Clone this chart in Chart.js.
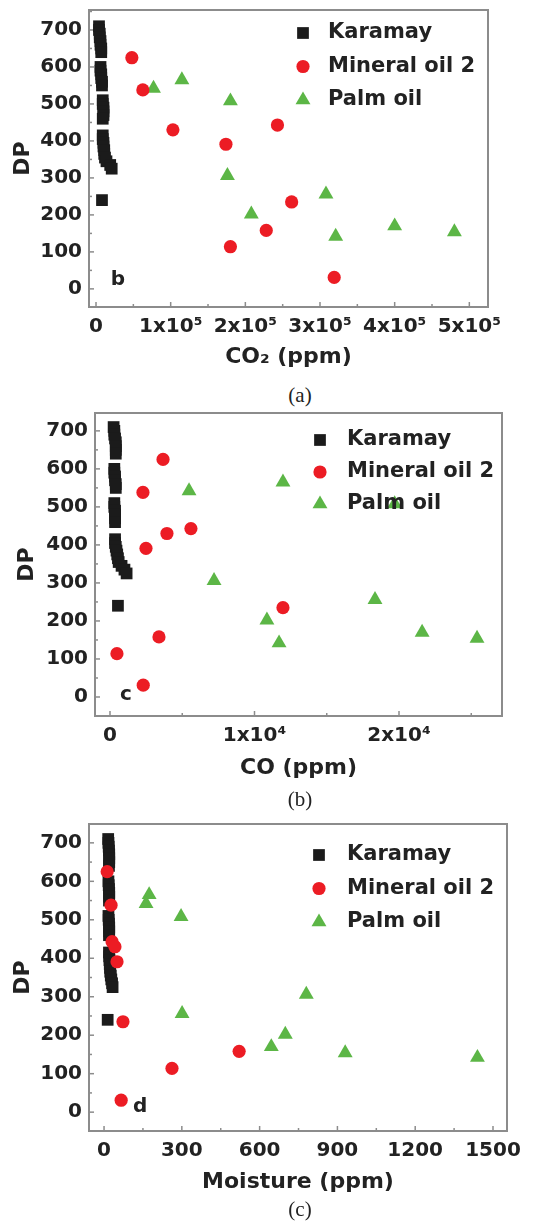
<!DOCTYPE html>
<html><head><meta charset="utf-8">
<script src="https://cdn.jsdelivr.net/npm/chart.js@4.4.1/dist/chart.umd.min.js"></script>
<style>
html,body{margin:0;padding:0;background:#fff;}
body{width:535px;height:1221px;overflow:hidden;position:relative;}
canvas{position:absolute;left:0;}
.cap{position:absolute;left:200px;width:200px;text-align:center;font-family:'Liberation Serif','Times New Roman',serif;font-size:21px;color:#222;line-height:24px;}
</style></head><body>
<canvas id="ca"></canvas>
<div class="cap" style="top:383px">(a)</div>
<canvas id="cb"></canvas>
<div class="cap" style="top:787px">(b)</div>
<canvas id="cc"></canvas>
<div class="cap" style="top:1197px">(c)</div>
<script>
// ---------------- DATA ----------------
const seriesNames = ['Karamay', 'Mineral oil 2', 'Palm oil'];

const karamayDP = [710, 700, 690, 680, 670, 660, 650, 640,
                   600, 590, 580, 570, 560, 550,
                   510, 500, 490, 480, 470, 460,
                   415, 405, 395, 385, 375, 365, 355, 345, 335, 325,
                   240];
const karamayCO2 = [4000, 4000, 5000, 5000, 6000, 6000, 7000, 7000,
                    6000, 6000, 7000, 7000, 8000, 8000,
                    9000, 9000, 10000, 10000, 10000, 9000,
                    9000, 9000, 10000, 10000, 11000, 11000, 12000, 14000, 19000, 21000,
                    8000];
const karamayCO = [250, 300, 300, 350, 400, 400, 400, 400,
                   300, 300, 350, 350, 400, 400,
                   300, 300, 350, 350, 350, 350,
                   350, 350, 400, 450, 500, 550, 600, 800, 1000, 1150,
                   550];
const karamayMoisture = [16, 17, 18, 19, 20, 20, 20, 19,
                         17, 18, 19, 20, 20, 19,
                         17, 18, 19, 20, 20, 19,
                         19, 20, 21, 22, 23, 24, 26, 28, 31, 33,
                         14];

const mineralDP = [625, 538, 443, 430, 391, 235, 158, 114, 31];
const mineralCO2 = [48000, 62700, 243000, 103000, 174000, 262000, 228000, 180000, 319000];
const mineralCO = [3670, 2280, 5600, 3940, 2490, 11970, 3390, 480, 2300];
const mineralMoisture = [12, 27, 31, 42, 50, 73, 521, 262, 66];

const palmDP = [565, 542, 508, 306, 256, 202, 170, 154, 142];
const palmCO2 = [115000, 77000, 180000, 176000, 308000, 208000, 400000, 480000, 321000];
const palmCO = [11970, 5470, 19700, 7200, 18340, 10860, 21600, 25400, 11700];
const palmMoisture = [174, 162, 297, 780, 301, 699, 645, 930, 1440];

const dpTicks = [0, 100, 200, 300, 400, 500, 600, 700];
const dpTickLabels = ['0', '100', '200', '300', '400', '500', '600', '700'];
const co2Ticks = [0, 100000, 200000, 300000, 400000, 500000];
const co2TickLabels = ['0', '1x10\u2075', '2x10\u2075', '3x10\u2075', '4x10\u2075', '5x10\u2075'];
const coTicks = [0, 10000, 20000];
const coTickLabels = ['0', '1x10\u2074', '2x10\u2074'];
const moistureTicks = [0, 300, 600, 900, 1200, 1500];
const moistureTickLabels = ['0', '300', '600', '900', '1200', '1500'];

// ---------------- LAYOUT / STYLE ----------------
const FONT = "'DejaVu Sans', 'Liberation Sans', Arial, sans-serif";
const TEXT = '#222';
const COLORS = ['#1b1b1b', '#ec1c24', '#5cb646'];
const STYLES = ['rect', 'circle', 'triangle'];
const RADII = [8.3, 6.6, 8.6];
const ORDER = [3, 1, 2];
const W = 535;

const panels = [
  {id:'ca', L:89, T:10, R:488, B:307, xMin:-9400, xMax:525000, yMin:-49, yMax:754,
   xTitle:'CO\u2082 (ppm)', xTitleY:357, yTitleX:23, xTicks:co2Ticks, xLabels:co2TickLabels,
   xs:[karamayCO2, mineralCO2, palmCO2], letter:{text:'b', x:29300, y:24},
   leg:{mx:303, tx:328, y0:33, dy:33.5}},
  {id:'cb', L:95, T:413, R:502, B:716, xMin:-1038, xMax:27128, yMin:-50, yMax:747,
   xTitle:'CO (ppm)', xTitleY:768, yTitleX:27, xTicks:coTicks, xLabels:coTickLabels,
   xs:[karamayCO, mineralCO, palmCO], letter:{text:'c', x:1107, y:5},
   leg:{mx:320, tx:347, y0:440, dy:32}},
  {id:'cc', L:89, T:824, R:507, B:1131, xMin:-58, xMax:1554, yMin:-49, yMax:749,
   xTitle:'Moisture (ppm)', xTitleY:1182, yTitleX:23, xTicks:moistureTicks, xLabels:moistureTickLabels,
   xs:[karamayMoisture, mineralMoisture, palmMoisture], letter:{text:'d', x:139, y:13},
   leg:{mx:319, tx:347, y0:855, dy:33.5}}
];

function drawMarker(ctx, style, r, x, y) {
  if (Chart.helpers && Chart.helpers.drawPoint) {
    Chart.helpers.drawPoint(ctx, {pointStyle: style, radius: r, rotation: 0, borderWidth: 0}, x, y);
    return;
  }
  ctx.beginPath();
  if (style === 'rect') { const s = r * Math.SQRT1_2; ctx.rect(x - s, y - s, 2 * s, 2 * s); }
  else if (style === 'circle') { ctx.arc(x, y, r, 0, Math.PI * 2); }
  else { ctx.moveTo(x, y - r); ctx.lineTo(x + r * 0.866, y + r / 2); ctx.lineTo(x - r * 0.866, y + r / 2); ctx.closePath(); }
  ctx.fill();
}

const framePlugin = {
  id: 'frameTicks',
  beforeDatasetsDraw(chart) {
    const {ctx, chartArea: a, scales: {x, y}} = chart;
    ctx.save();
    ctx.strokeStyle = '#8c8c8c';
    ctx.lineWidth = 2;
    ctx.strokeRect(a.left, a.top, a.right - a.left, a.bottom - a.top);
    ctx.lineWidth = 1.5;
    const tickLines = (scale, horiz) => {
      const vals = scale.ticks.map(t => t.value);
      const step = vals[1] - vals[0];
      const line = (v, len) => {
        const p = scale.getPixelForValue(v);
        ctx.beginPath();
        if (horiz) { ctx.moveTo(p, a.bottom); ctx.lineTo(p, a.bottom - len); }
        else { ctx.moveTo(a.left, p); ctx.lineTo(a.left + len, p); }
        ctx.stroke();
      };
      vals.forEach(v => line(v, 5));
      for (let v = vals[0] - step / 2; v <= vals[vals.length - 1] + step / 2; v += step) {
        if (v > scale.min && v < scale.max) line(v, 3);
      }
    };
    tickLines(x, true);
    tickLines(y, false);
    ctx.restore();
  },
  afterDraw(chart, args, opts) {
    const {ctx, scales: {x, y}} = chart;
    const p = opts.panel;
    const off = opts.canvasTop;
    ctx.save();
    ctx.fillStyle = TEXT;
    ctx.font = 'bold 20px ' + FONT;
    ctx.textAlign = 'center';
    ctx.textBaseline = 'middle';
    ctx.fillText(p.letter.text, x.getPixelForValue(p.letter.x), y.getPixelForValue(p.letter.y));
    // legend inside the plot
    ctx.font = 'bold 21px ' + FONT;
    ctx.textAlign = 'left';
    chart.data.datasets.forEach((ds, i) => {
      const ry = p.leg.y0 + i * p.leg.dy - off;
      ctx.fillStyle = ds.backgroundColor;
      drawMarker(ctx, ds.pointStyle, ds.pointRadius, p.leg.mx, ry);
      ctx.fillStyle = TEXT;
      ctx.fillText(ds.label, p.leg.tx, ry);
    });
    ctx.restore();
  }
};

const titleSize = 22, tickSize = 20;
const lh = titleSize * 1.2;

panels.forEach(p => {
  const padTop = 26;
  const canvasTop = p.T - padTop;
  const xAxisBottom = p.xTitleY + lh / 2 + 4;
  const canvasH = Math.ceil(xAxisBottom + 4 - canvasTop);
  const padLeft = p.yTitleX - lh / 2 - 4;
  const cv = document.getElementById(p.id);
  cv.width = W; cv.height = canvasH;
  cv.style.top = canvasTop + 'px';
  cv.style.width = W + 'px'; cv.style.height = canvasH + 'px';

  const dpLists = [karamayDP, mineralDP, palmDP];
  const datasets = seriesNames.map((name, i) => ({
    label: name,
    data: dpLists[i].map((d, k) => ({x: p.xs[i][k], y: d})),
    pointStyle: STYLES[i],
    pointRadius: RADII[i],
    pointHoverRadius: RADII[i],
    backgroundColor: COLORS[i],
    borderColor: COLORS[i],
    borderWidth: 0,
    order: ORDER[i]
  }));

  new Chart(cv, {
    type: 'scatter',
    data: {datasets},
    plugins: [framePlugin],
    options: {
      responsive: false,
      devicePixelRatio: 1,
      animation: false,
      events: [],
      layout: {padding: {top: padTop, left: padLeft, right: W - p.R, bottom: canvasH - (xAxisBottom - canvasTop)}},
      plugins: {
        legend: {display: false},
        tooltip: {enabled: false},
        frameTicks: {panel: p, canvasTop: canvasTop}
      },
      scales: {
        x: {
          type: 'linear', min: p.xMin, max: p.xMax,
          grid: {display: false, drawTicks: false},
          border: {display: false},
          afterBuildTicks: s => { s.ticks = p.xTicks.map(v => ({value: v})); },
          afterFit: s => { s.height = xAxisBottom - p.B; },
          ticks: {
            autoSkip: false, maxRotation: 0, minRotation: 0, padding: 8,
            color: TEXT, font: {family: FONT, size: tickSize, weight: 'bold'},
            callback: (v, i) => p.xLabels[i]
          },
          title: {display: true, text: p.xTitle, color: TEXT, padding: {top: 4, bottom: 4},
                  font: {family: FONT, size: titleSize, weight: 'bold'}}
        },
        y: {
          type: 'linear', min: p.yMin, max: p.yMax,
          grid: {display: false, drawTicks: false},
          border: {display: false},
          afterBuildTicks: s => { s.ticks = dpTicks.map(v => ({value: v})); },
          afterFit: s => { s.width = p.L - padLeft; },
          ticks: {
            autoSkip: false, padding: 7,
            color: TEXT, font: {family: FONT, size: tickSize, weight: 'bold'},
            callback: (v, i) => dpTickLabels[i]
          },
          title: {display: true, text: 'DP', color: TEXT, padding: {top: 4, bottom: 4},
                  font: {family: FONT, size: titleSize, weight: 'bold'}}
        }
      }
    }
  });
});
</script>
</body></html>
